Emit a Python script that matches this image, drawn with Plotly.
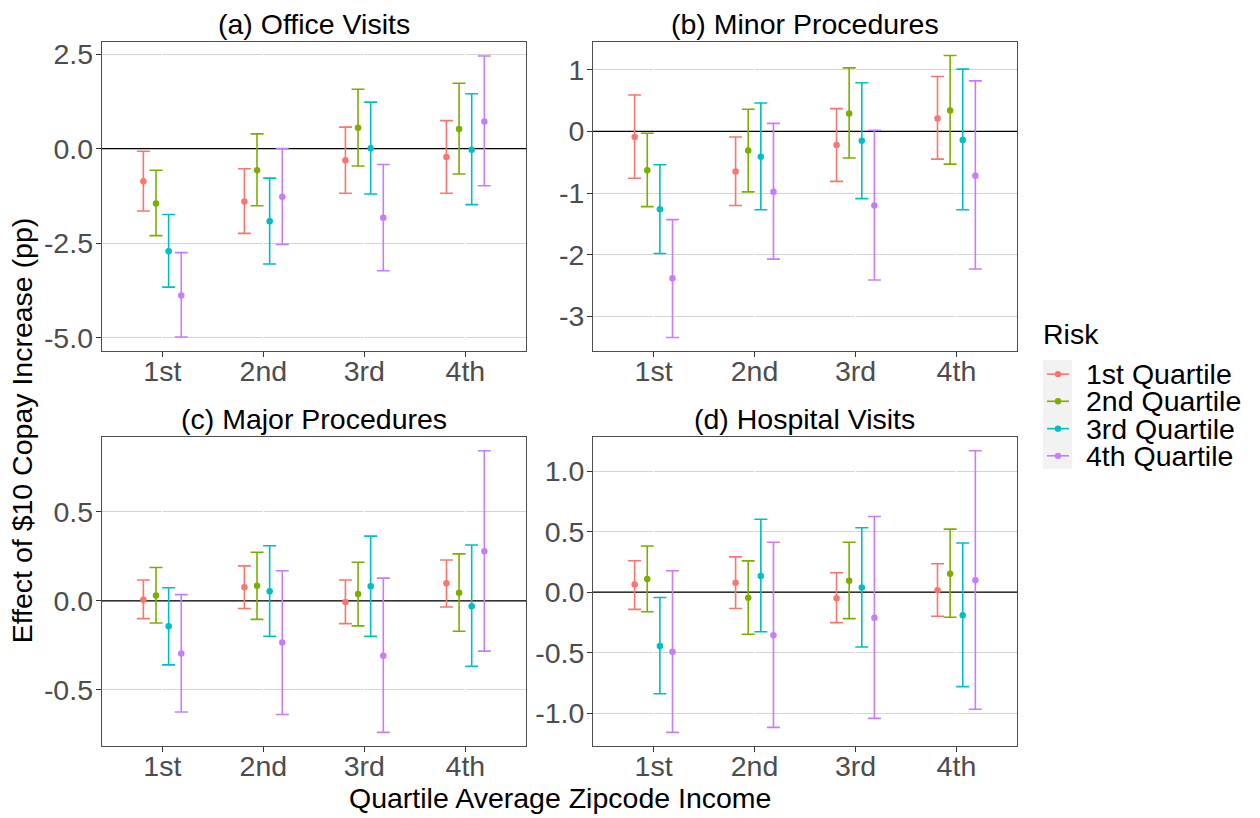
import plotly.graph_objects as go

# ---------------- data ----------------
income_labels = ["1st", "2nd", "3rd", "4th"]
risk_labels = ["1st Quartile", "2nd Quartile", "3rd Quartile", "4th Quartile"]
risk_colors = ["#F8766D", "#7CAE00", "#00BFC4", "#C77CFF"]
panel_titles = ["(a) Office Visits", "(b) Minor Procedures",
                "(c) Major Procedures", "(d) Hospital Visits"]

# rows = risk quartile (1st..4th), columns = income quartile (1st..4th)
office_est = [[-0.86, -1.40, -0.31, -0.22], [-1.45, -0.57, 0.55, 0.52],
              [-2.71, -1.92, 0.01, -0.03], [-3.88, -1.27, -1.83, 0.72]]
office_lo = [[-1.65, -2.24, -1.18, -1.18], [-2.30, -1.51, -0.46, -0.67],
             [-3.66, -3.05, -1.20, -1.48], [-4.98, -2.53, -3.23, -0.98]]
office_hi = [[-0.07, -0.53, 0.57, 0.74], [-0.57, 0.39, 1.57, 1.73],
             [-1.74, -0.78, 1.23, 1.45], [-2.75, 0.00, -0.42, 2.45]]

minor_est = [[-0.09, -0.65, -0.22, 0.21], [-0.63, -0.31, 0.29, 0.34],
             [-1.26, -0.41, -0.15, -0.14], [-2.38, -0.98, -1.20, -0.72]]
minor_lo = [[-0.76, -1.20, -0.81, -0.45], [-1.22, -0.98, -0.43, -0.53],
            [-1.98, -1.27, -1.09, -1.27], [-3.34, -2.07, -2.41, -2.23]]
minor_hi = [[0.59, -0.09, 0.37, 0.89], [-0.03, 0.36, 1.03, 1.23],
            [-0.54, 0.46, 0.79, 1.01], [-1.43, 0.13, 0.02, 0.82]]

major_est = [[0.006, 0.076, -0.006, 0.099], [0.030, 0.085, 0.039, 0.046],
             [-0.143, 0.054, 0.082, -0.030], [-0.296, -0.234, -0.309, 0.279]]
major_lo = [[-0.100, -0.043, -0.128, -0.035], [-0.125, -0.104, -0.141, -0.171],
            [-0.360, -0.199, -0.200, -0.368], [-0.625, -0.639, -0.740, -0.283]]
major_hi = [[0.117, 0.197, 0.117, 0.230], [0.188, 0.273, 0.217, 0.264],
            [0.074, 0.310, 0.364, 0.314], [0.035, 0.169, 0.128, 0.844]]

hosp_est = [[0.063, 0.079, -0.049, 0.016], [0.109, -0.046, 0.095, 0.153],
            [-0.445, 0.134, 0.038, -0.191], [-0.491, -0.355, -0.210, 0.098]]
hosp_lo = [[-0.142, -0.134, -0.251, -0.199], [-0.161, -0.347, -0.218, -0.207],
           [-0.838, -0.327, -0.453, -0.780], [-1.157, -1.116, -1.042, -0.966]]
hosp_hi = [[0.260, 0.292, 0.161, 0.235], [0.382, 0.259, 0.412, 0.521],
           [-0.044, 0.603, 0.532, 0.407], [0.177, 0.412, 0.625, 1.168]]

y_tickvals = [[-5.0, -2.5, 0.0, 2.5], [-3, -2, -1, 0, 1],
              [-0.5, 0.0, 0.5], [-1.0, -0.5, 0.0, 0.5, 1.0]]
y_ticktext = [["-5.0", "-2.5", "0.0", "2.5"], ["-3", "-2", "-1", "0", "1"],
              ["-0.5", "0.0", "0.5"], ["-1.0", "-0.5", "0.0", "0.5", "1.0"]]
y_ranges = [[-5.35, 2.82], [-3.56, 1.45], [-0.816, 0.922], [-1.269, 1.282]]

panels = [(office_est, office_lo, office_hi), (minor_est, minor_lo, minor_hi),
          (major_est, major_lo, major_hi), (hosp_est, hosp_lo, hosp_hi)]

# ---------------- layout geometry ----------------
W, H = 1260, 818
FONT = "Liberation Sans, Arial, sans-serif"
FS = 28.5


def px(x):
    return x / W


def py(y):
    return 1 - y / H


boxes = [(101.7, 38.3, 526, 350), (593, 38.3, 1017, 350),
         (101.7, 436.7, 526, 748.3), (593, 436.7, 1017, 748.3)]
dodge = [-0.1875, -0.0625, 0.0625, 0.1875]
cat_pos = [1, 2, 3, 4]
x_range = [0.4, 4.6]

fig = go.Figure()
shapes = []
annotations = []
layout = {}

for p, (est, lo, hi) in enumerate(panels):
    sfx = "" if p == 0 else str(p + 1)
    xa, ya = "x" + sfx, "y" + sfx
    for r in range(4):
        fig.add_trace(go.Scatter(
            x=[c + dodge[r] for c in cat_pos],
            y=est[r],
            mode="markers",
            marker=dict(color=risk_colors[r], size=6.5),
            error_y=dict(type="data", symmetric=False,
                         array=[h - e for h, e in zip(hi[r], est[r])],
                         arrayminus=[e - l for e, l in zip(est[r], lo[r])],
                         color=risk_colors[r], thickness=1.6, width=6.5),
            xaxis=xa, yaxis=ya, showlegend=False, name=risk_labels[r],
        ))
    x0, y0, x1, y1 = boxes[p]
    layout["xaxis" + sfx] = dict(
        domain=[px(x0), px(x1)], anchor=ya, range=x_range,
        tickvals=cat_pos, ticktext=income_labels, showgrid=False,
        zeroline=False, showline=True, mirror=True, linecolor="#4d4d4d",
        linewidth=1, ticks="outside", ticklen=5, tickcolor="#333333",
        ticklabelstandoff=-10,
        tickfont=dict(family=FONT, size=FS, color="#4D4D4D"),
    )
    layout["yaxis" + sfx] = dict(
        domain=[py(y1), py(y0)], anchor=xa, range=y_ranges[p],
        tickvals=y_tickvals[p], ticktext=y_ticktext[p], showgrid=True,
        gridcolor="#D4D4D4", gridwidth=1.3, zeroline=False, showline=True,
        mirror=True, linecolor="#4d4d4d", linewidth=1, ticks="outside",
        ticklen=5, tickcolor="#333333", ticklabelstandoff=-3,
        tickfont=dict(family=FONT, size=FS, color="#4D4D4D"),
    )
    # white major x gridlines (ggplot style)
    for c in cat_pos:
        shapes.append(dict(type="line", xref=xa, yref=ya,
                           x0=c, x1=c, y0=y_ranges[p][0], y1=y_ranges[p][1],
                           layer="between",
                           line=dict(color="white", width=1.5)))
    # horizontal reference line at zero
    shapes.append(dict(type="line", xref=xa, yref=ya,
                       x0=x_range[0], x1=x_range[1], y0=0, y1=0,
                       layer="between",
                       line=dict(color="black", width=1.3)))
    # strip title
    annotations.append(dict(text=panel_titles[p], xref="paper", yref="paper",
                            x=px((x0 + x1) / 2), y=py(y0 - 18.5),
                            xanchor="center", yanchor="middle", showarrow=False,
                            font=dict(family=FONT, size=FS, color="black")))

# axis titles
annotations.append(dict(text="Quartile Average Zipcode Income", xref="paper",
                        yref="paper", x=px(560), y=py(801), xanchor="center",
                        yanchor="middle", showarrow=False,
                        font=dict(family=FONT, size=FS, color="black")))
annotations.append(dict(text="Effect of $10 Copay Increase (pp)", xref="paper",
                        yref="paper", x=px(22), y=py(430), xanchor="center",
                        yanchor="middle", textangle=-90, showarrow=False,
                        font=dict(family=FONT, size=FS, color="black")))

# manual legend
annotations.append(dict(text="Risk", xref="paper", yref="paper", x=px(1041),
                        y=py(333), xanchor="left", yanchor="middle",
                        showarrow=False,
                        font=dict(family=FONT, size=FS, color="black")))
shapes.append(dict(type="rect", xref="paper", yref="paper", x0=px(1043),
                   x1=px(1072), y0=py(469), y1=py(359), layer="above",
                   fillcolor="#F2F2F2", line=dict(width=0)))
row_y = [373.3, 400.7, 428.3, 455.7]
for r in range(4):
    shapes.append(dict(type="line", xref="paper", yref="paper", x0=px(1047),
                       x1=px(1069), y0=py(row_y[r]), y1=py(row_y[r]),
                       layer="above", line=dict(color=risk_colors[r], width=1.6)))
    shapes.append(dict(type="circle", xref="paper", yref="paper",
                       x0=px(1058 - 3.2), x1=px(1058 + 3.2),
                       y0=py(row_y[r] + 3.2), y1=py(row_y[r] - 3.2),
                       layer="above", fillcolor=risk_colors[r],
                       line=dict(width=0)))
    annotations.append(dict(text=risk_labels[r], xref="paper", yref="paper",
                            x=px(1084), y=py(row_y[r]), xanchor="left",
                            yanchor="middle", showarrow=False,
                            font=dict(family=FONT, size=FS, color="black")))

fig.update_layout(
    width=W, height=H, margin=dict(l=0, r=0, t=0, b=0),
    paper_bgcolor="white", plot_bgcolor="white", showlegend=False,
    shapes=shapes, annotations=annotations,
    font=dict(family=FONT, size=FS, color="black"),
    **layout,
)

fig.write_html("out.html", config={"displayModeBar": False},
               post_script="document.body.style.margin='0';")
